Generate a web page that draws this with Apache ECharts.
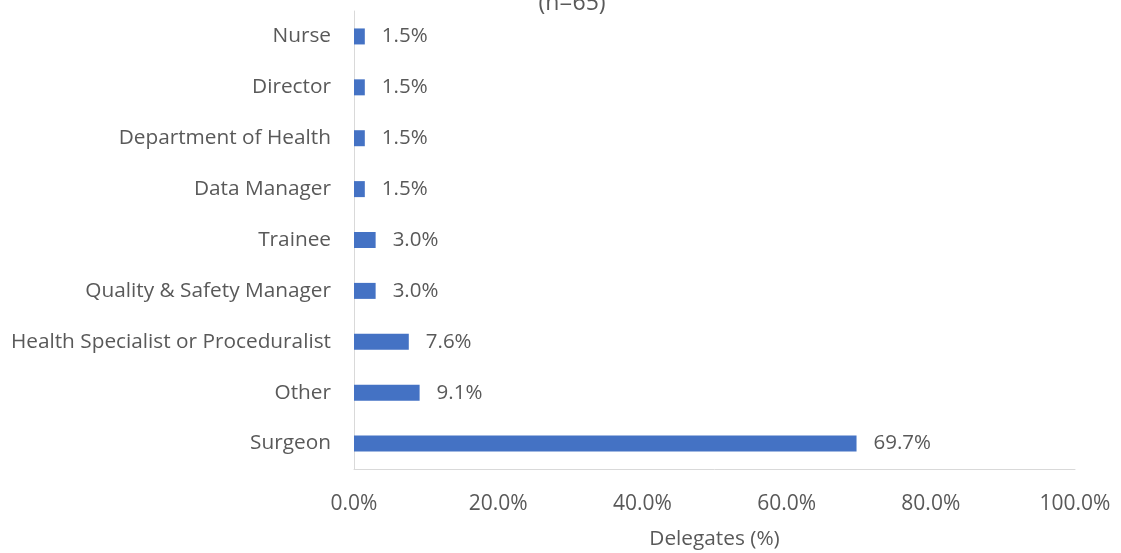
<!DOCTYPE html>
<html>
<head>
<meta charset="utf-8">
<script src="https://cdn.jsdelivr.net/npm/echarts@6/dist/echarts.min.js"></script>
<style>
  html, body { margin: 0; padding: 0; background: #fff; }
  #chart { width: 1121px; height: 553px; }
</style>
</head>
<body>
<div id="chart"></div>
<script>
// categories bottom-to-top, as ECharts draws a category y axis
const roles = ['Surgeon', 'Other', 'Health Specialist or Proceduralist', 'Quality & Safety Manager',
  'Trainee', 'Data Manager', 'Department of Health', 'Director', 'Nurse']
const delegatesPct = [69.7, 9.1, 7.6, 3.0, 3.0, 1.5, 1.5, 1.5, 1.5]
const xTicks = [0, 20, 40, 60, 80, 100]

const textColor = '#595959'
const fontFamily = 'Open Sans, Liberation Sans, sans-serif'
const fontSize = 20.8

const chart = echarts.init(document.getElementById('chart'))
chart.setOption({
  animation: false,
  backgroundColor: '#fff',
  title: {
    text: '(n=65)',
    left: 567,
    top: -13,
    textAlign: 'center',
    textStyle: { color: textColor, fontSize: 23, fontWeight: 'normal', fontFamily }
  },
  grid: { left: 354, right: 46, top: 11, bottom: 84, outerBoundsMode: 'none' },
  xAxis: {
    type: 'value',
    min: xTicks[0],
    max: xTicks[xTicks.length - 1],
    interval: 20,
    name: 'Delegates (%)',
    nameLocation: 'middle',
    nameGap: 60,
    nameTextStyle: { color: textColor, fontSize, fontFamily },
    axisLine: { show: true, lineStyle: { color: '#d9d9d9', width: 1 } },
    axisTick: { show: false },
    splitLine: { show: false },
    axisLabel: {
      color: textColor, fontSize: 21, fontFamily, margin: 25,
      formatter: v => v.toFixed(1) + '%'
    }
  },
  yAxis: {
    type: 'category',
    data: roles,
    axisLine: { show: true, lineStyle: { color: '#d9d9d9', width: 1 } },
    axisTick: { show: false },
    axisLabel: { color: textColor, fontSize, fontFamily, margin: 23 }
  },
  series: [{
    type: 'bar',
    data: delegatesPct,
    barWidth: 16,
    itemStyle: { color: '#4472c4' },
    label: {
      show: true,
      position: 'right',
      distance: 17,
      color: textColor,
      fontSize: 20.5,
      fontFamily,
      formatter: p => p.value.toFixed(1) + '%'
    }
  }]
})
</script>
</body>
</html>
